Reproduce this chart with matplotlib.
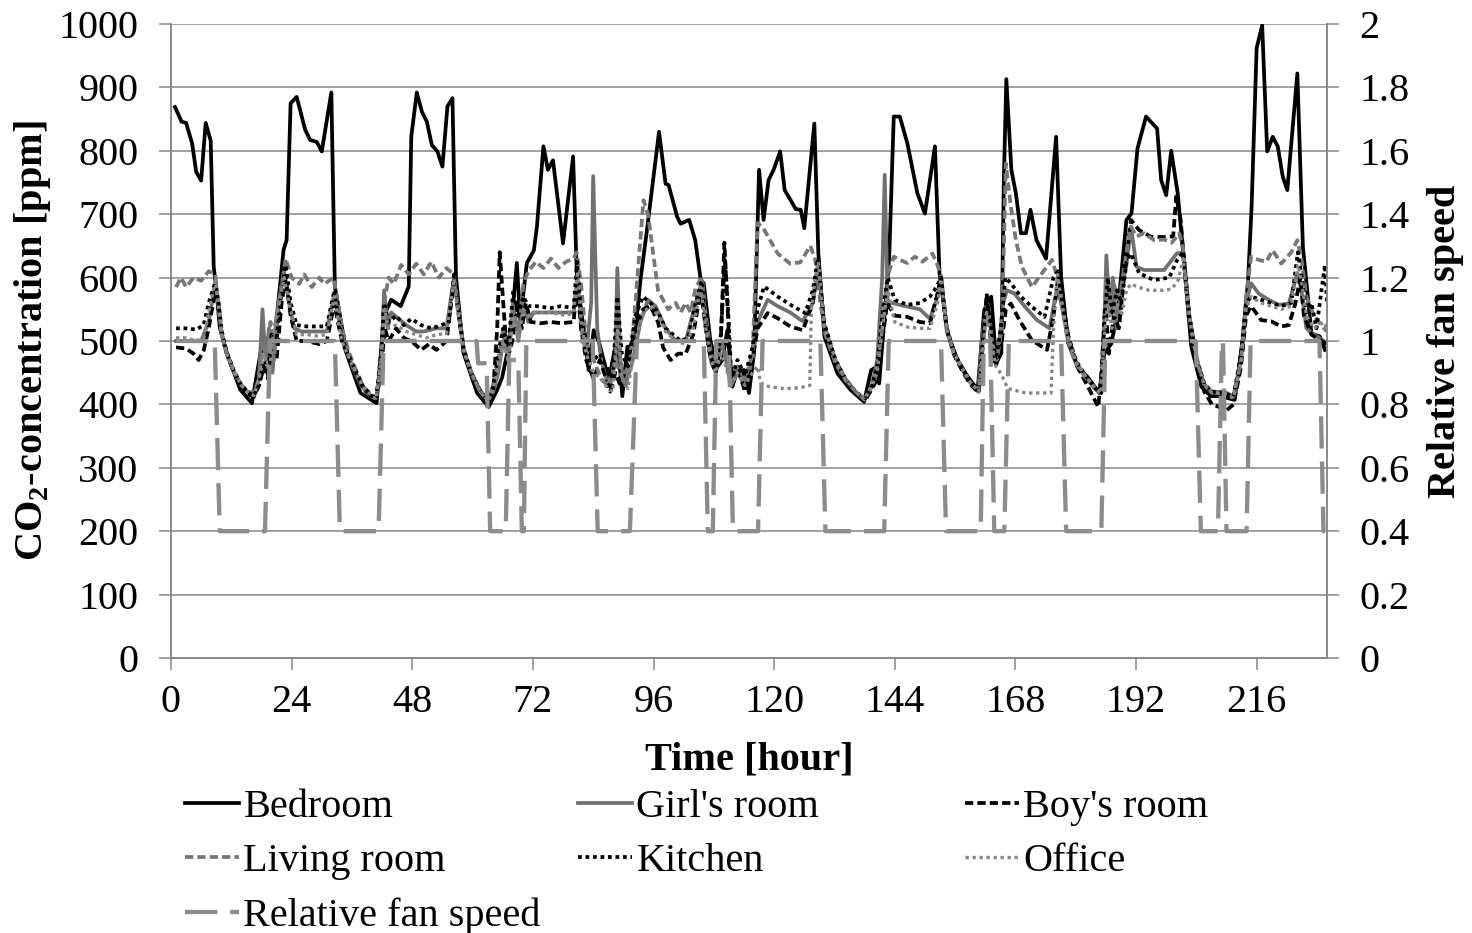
import matplotlib
matplotlib.use('Agg')
import matplotlib.pyplot as plt
from matplotlib.ticker import FuncFormatter

plt.rcParams['font.family'] = ['Liberation Serif', 'DejaVu Serif']
plt.rcParams['mathtext.fontset'] = 'custom'
plt.rcParams['mathtext.rm'] = 'Liberation Serif:bold'
plt.rcParams['mathtext.bf'] = 'Liberation Serif:bold'

# (hour, CO2 ppm)
bedroom = [(0.8, 869), (2.1, 846), (3.0, 844), (4.2, 812), (5.0, 767), (6.0, 753), (6.9, 844), (7.9, 816),
           (8.5, 617), (9.1, 575), (9.7, 522), (11.1, 481), (13.8, 423), (16.1, 402), (17.8, 481), (19.0, 497),
           (20.0, 454), (21.0, 533), (22.4, 644), (23.0, 659), (23.8, 875), (25.0, 885), (26.7, 833), (27.7, 817),
           (29.0, 814), (30.0, 799), (31.9, 892), (32.6, 586), (34.9, 481), (37.7, 418), (40.9, 402), (42.4, 540),
           (43.8, 565), (45.7, 555), (47.3, 586), (47.8, 822), (48.9, 892), (49.9, 862), (50.9, 846), (51.9, 809),
           (53.0, 799), (54.0, 775), (55.0, 870), (56.0, 883), (56.7, 601), (58.2, 481), (60.9, 418), (63.2, 396),
           (64.9, 423), (65.9, 443), (66.9, 481), (67.9, 540), (68.8, 623), (69.5, 533), (70.8, 623), (72.2, 643),
           (72.8, 680), (74.1, 807), (75.0, 770), (76.0, 785), (78.0, 654), (80.0, 791), (80.9, 565), (81.5, 555),
           (83.1, 454), (84.1, 517), (85.2, 497), (87.1, 438), (88.8, 507), (89.8, 413), (90.8, 491), (92.1, 491),
           (93.4, 596), (94.7, 675), (97.1, 830), (98.4, 748), (99.0, 746), (100.7, 696), (101.4, 685), (103.1, 691),
           (104.3, 659), (105.4, 596), (106.0, 591), (107.3, 501), (108.7, 459), (109.7, 470), (110.7, 517),
           (111.7, 428), (112.7, 454), (114.1, 454), (115.0, 418), (116.0, 481), (117.0, 770), (117.9, 691),
           (118.9, 754), (119.9, 770), (121.2, 799), (122.1, 738), (123.3, 722), (124.3, 708), (125.3, 707),
           (126.0, 678), (128.0, 843), (128.8, 638), (130.0, 507), (132.6, 449), (135.2, 423), (137.9, 404),
           (139.3, 454), (140.3, 459), (140.9, 433), (142.9, 633), (143.8, 854), (145.0, 854), (146.5, 812),
           (148.5, 733), (150.0, 701), (152.0, 807), (152.9, 607), (154.5, 512), (156.5, 470), (158.5, 444),
           (160.5, 423), (161.8, 549), (163.2, 570), (164.2, 465), (165.2, 481), (165.7, 754), (166.2, 913),
           (167.2, 770), (168.1, 733), (169.1, 670), (170.1, 670), (171.0, 707), (172.2, 659), (174.1, 630),
           (176.1, 822), (177.1, 601), (178.5, 497), (180.4, 459), (182.4, 443), (184.7, 418), (185.7, 480),
           (187.1, 496), (188.4, 549), (190.1, 691), (191.1, 701), (192.3, 804), (194.0, 854), (196.2, 835),
           (197.0, 754), (198.0, 730), (199.0, 800), (200.3, 733), (201.4, 638), (203.0, 491), (205.0, 428),
           (206.9, 413), (208.9, 413), (211.6, 407), (213.3, 507), (214.3, 596), (215.0, 712), (216.0, 962),
           (217.1, 998), (218.1, 799), (219.2, 822), (220.2, 807), (221.2, 759), (222.1, 738), (224.1, 922),
           (225.2, 649), (226.9, 512), (228.6, 507), (229.6, 486)]

girls_room = [(1, 500), (6, 500), (7.5, 530), (8.8, 590), (9.4, 560), (10.1, 510), (11.1, 480), (12.5, 452),
              (14, 430), (15.5, 418), (16.5, 415), (17.5, 440), (18.2, 550), (18.8, 470), (19.5, 520), (20.2, 450),
              (21, 540), (22.5, 610), (23.5, 560), (24.5, 520), (26, 515), (31, 515), (32.5, 575), (33.5, 530),
              (35, 482), (36.5, 452), (37.8, 430), (39.3, 415), (40.8, 410), (41.8, 460), (42.4, 580), (43.1, 520),
              (43.8, 545), (45.3, 535), (46.8, 525), (48.8, 515), (50.3, 515), (52.8, 520), (54.8, 520), (56.3, 600),
              (57.3, 540), (58.3, 485), (59.8, 450), (61.3, 425), (63.1, 405), (64.1, 420), (65.1, 450), (66.1, 500),
              (67.1, 480), (68.1, 560), (69.1, 500), (70.1, 560), (71.1, 530), (72.1, 545), (80.1, 545), (80.9, 600),
              (81.6, 520), (82.6, 480), (83.6, 560), (84.0, 760), (84.8, 520), (85.6, 470), (86.6, 440), (87.4, 430),
              (88.4, 470), (88.8, 615), (89.4, 470), (90.4, 430), (91.9, 470), (93.4, 530), (94.9, 565), (96.4, 555),
              (98.4, 520), (100.4, 500), (102.4, 500), (104.4, 560), (105.7, 595), (106.4, 520), (107.4, 470),
              (108.4, 450), (109.4, 500), (110.4, 470), (111.4, 430), (112.7, 450), (114.2, 430), (115.7, 470),
              (116.7, 530), (118.7, 565), (120.7, 555), (123.2, 545), (125.7, 531), (127.7, 560), (128.8, 620),
              (130.0, 525), (132.2, 470), (134.2, 440), (136.2, 420), (138, 408), (139.5, 430), (140.5, 470),
              (141.5, 600), (142.0, 762), (142.6, 560), (143.5, 560), (146, 555), (149, 550), (151, 535),
              (152.5, 570), (153.2, 600), (154.3, 520), (155.8, 480), (157.5, 455), (159, 435), (160.7, 420),
              (161.3, 500), (162.3, 560), (163.1, 520), (163.8, 470), (164.8, 500), (165.6, 560), (166.3, 580),
              (167.8, 575), (169.8, 555), (172.3, 533), (174.8, 520), (176.3, 585), (177.1, 560), (178.3, 510),
              (179.8, 470), (181.8, 445), (183.8, 425), (185, 418), (185.6, 500), (186.1, 635), (186.8, 540),
              (187.4, 600), (188.1, 520), (189.1, 580), (190.1, 620), (191.0, 680), (192.1, 617), (193.6, 612),
              (197.6, 612), (200.1, 638), (201.4, 640), (202.6, 540), (204.1, 470), (205.6, 430), (207.1, 420),
              (209.6, 420), (211.4, 412), (212.9, 470), (213.9, 560), (214.9, 591), (216.4, 575), (218.4, 565),
              (220.4, 557), (222.4, 559), (224.1, 607), (224.9, 580), (225.9, 520), (227.4, 510), (229.4, 500),
              (230, 495)]

boys_room = [(1, 490), (3, 488), (4.5, 480), (5.5, 470), (6.5, 485), (7.5, 520), (8.8, 580), (9.4, 560),
             (10.1, 510), (11.1, 480), (12.5, 450), (14, 428), (15.5, 415), (16.5, 412), (17.5, 430), (18.5, 460),
             (19.3, 440), (20, 500), (21, 470), (22, 560), (22.8, 600), (23.8, 540), (25, 500), (27, 500),
             (29.5, 495), (31, 500), (32.5, 560), (33.2, 530), (34, 500), (35.5, 470), (37, 445), (38.3, 425),
             (39.8, 413), (40.8, 408), (41.8, 450), (42.5, 520), (43.3, 500), (44.8, 520), (46.3, 505), (47.8, 500),
             (49.8, 486), (51.3, 495), (52.8, 486), (54.8, 500), (56.3, 595), (57.0, 555), (58.2, 485), (59.7, 450),
             (61.2, 425), (63.1, 402), (64.1, 420), (64.9, 520), (65.4, 640), (66.1, 560), (66.9, 470), (67.9, 500),
             (68.9, 560), (69.8, 520), (70.6, 560), (71.6, 530), (73.6, 528), (75.6, 530), (77.6, 528), (80.1, 530),
             (80.8, 590), (81.6, 520), (82.6, 470), (84.1, 440), (85.3, 470), (86.6, 440), (87.4, 420), (88.4, 450),
             (89.4, 430), (90.9, 470), (92.4, 520), (93.9, 550), (95.4, 555), (96.9, 530), (97.9, 490), (99.4, 470),
             (100.9, 480), (102.4, 480), (103.9, 510), (105.4, 580), (106.4, 520), (107.4, 470), (108.4, 450),
             (109.4, 500), (110.1, 655), (110.7, 560), (111.4, 440), (112.7, 460), (114.2, 420), (115.7, 470),
             (116.7, 520), (118.7, 544), (120.7, 536), (123.2, 523), (125.7, 517), (127.7, 560), (128.8, 625),
             (130.0, 520), (132.2, 468), (134.2, 438), (136.2, 418), (138, 405), (139.5, 425), (140.5, 440),
             (141.5, 500), (142.5, 560), (144, 540), (146.5, 538), (149, 530), (151, 528), (152.5, 575), (153.2, 600),
             (154.3, 520), (155.8, 478), (157.5, 452), (159, 432), (160.7, 418), (161.3, 470), (162.3, 575),
             (163.1, 500), (164.1, 460), (165.3, 500), (166.1, 550), (167.1, 559), (168.8, 533), (171.3, 501),
             (174.3, 486), (175.6, 540), (176.6, 607), (177.4, 560), (178.6, 505), (180.3, 460), (182.3, 430),
             (184.5, 396), (185.1, 450), (185.9, 560), (186.6, 480), (187.6, 540), (188.6, 520), (189.6, 600),
             (191.0, 691), (192.6, 675), (195.1, 664), (197.6, 664), (199.4, 665), (200.0, 728), (200.9, 690),
             (201.6, 620), (202.6, 530), (204.1, 460), (205.6, 420), (207.1, 400), (208.9, 395), (210.1, 391),
             (211.4, 400), (212.9, 460), (213.9, 540), (214.9, 555), (216.9, 533), (218.9, 531), (220.9, 523),
             (222.4, 525), (223.7, 559), (224.7, 600), (225.4, 540), (226.9, 510), (228.9, 500), (230, 495)]

living_room = [(1, 585), (2, 600), (3, 585), (4.5, 600), (6, 595), (7.5, 610), (8.8, 605), (9.4, 560), (10.1, 510),
               (11.1, 480), (12.5, 452), (14, 430), (15.5, 420), (16.5, 418), (17.5, 440), (18.3, 500), (19, 470),
               (19.8, 530), (20.5, 470), (21.5, 560), (22.8, 630), (24, 600), (25.5, 590), (26.5, 605), (28, 585),
               (29.5, 600), (30.5, 590), (32.3, 600), (33, 570), (34, 520), (35.5, 480), (37, 450), (38.3, 428),
               (39.8, 415), (40.8, 410), (41.8, 470), (42.4, 560), (43.3, 600), (44.3, 590), (45.8, 620), (47.3, 605),
               (48.8, 622), (50.3, 605), (51.8, 625), (53.3, 600), (54.8, 615), (56.3, 605), (57.0, 560), (58.2, 490),
               (59.7, 450), (61.2, 425), (63.1, 405), (64.1, 430), (65.1, 470), (66.1, 520), (67.1, 470), (68.1, 550),
               (69.1, 510), (70.1, 590), (71.1, 610), (72.6, 625), (74.1, 615), (75.6, 630), (77.1, 615), (78.6, 625),
               (80.1, 630), (80.7, 640), (81.6, 590), (82.6, 500), (84.1, 470), (85.6, 440), (86.9, 430), (88.4, 470),
               (89.9, 440), (91.4, 470), (92.4, 560), (94.0, 722), (94.9, 700), (95.9, 640), (96.9, 580), (97.9, 565),
               (98.9, 550), (100.4, 560), (101.4, 545), (102.4, 560), (103.4, 545), (104.4, 585), (105.6, 600),
               (106.4, 540), (107.4, 480), (108.4, 460), (109.4, 500), (110.4, 480), (111.4, 440), (112.7, 460),
               (114.2, 440), (115.7, 480), (116.7, 686), (117.7, 680), (119.2, 659), (120.7, 638), (123.2, 622),
               (125.2, 624), (127.2, 650), (128.2, 628), (129.2, 560), (130.2, 510), (132.2, 465), (134.2, 438),
               (136.2, 420), (138, 408), (139.5, 430), (140.5, 460), (141.5, 520), (142.5, 600), (143.8, 633),
               (145, 628), (146.5, 623), (148, 633), (149.5, 625), (151.5, 638), (152.5, 620), (153.3, 600),
               (154.3, 520), (155.8, 480), (157.5, 455), (159, 435), (160.6, 420), (161.3, 480), (162.3, 545),
               (163.3, 500), (164.3, 470), (165.3, 520), (166.1, 780), (167.1, 712), (168.1, 659), (169.3, 617),
               (171.3, 585), (173.3, 607), (175.3, 628), (176.3, 601), (177.1, 570), (178.3, 505), (179.8, 468),
               (181.8, 444), (183.8, 425), (185, 418), (185.6, 520), (186.1, 600), (187.0, 540), (187.6, 590),
               (188.6, 560), (189.9, 630), (191.0, 680), (192.1, 665), (193.6, 670), (195.6, 659), (197.6, 660),
               (199.1, 655), (200.6, 670), (201.4, 645), (202.6, 540), (204.1, 472), (205.6, 432), (207.1, 420),
               (209.6, 418), (211.4, 412), (212.9, 470), (213.9, 570), (214.9, 633), (216.4, 628), (217.9, 625),
               (219.2, 643), (220.9, 622), (222.9, 640), (224.1, 659), (224.9, 630), (225.9, 570), (227.4, 540),
               (229.4, 520), (230, 515)]

kitchen = [(1, 520), (3, 520), (5, 518), (6.5, 525), (7.5, 560), (8.7, 590), (9.4, 565), (10.1, 515), (11.1, 482),
           (12.5, 453), (14, 430), (15.5, 418), (16.5, 414), (17.5, 430), (18.5, 470), (19.2, 445), (20, 510),
           (21, 500), (22, 580), (22.8, 620), (23.8, 560), (25, 525), (27, 523), (29, 523), (31, 523), (32.5, 580),
           (33.2, 540), (34, 505), (35.5, 475), (37, 448), (38.3, 427), (39.8, 415), (40.8, 408), (41.8, 480),
           (42.4, 560), (43.3, 530), (44.8, 540), (46.3, 525), (47.8, 535), (49.8, 525), (51.8, 520), (53.8, 525),
           (55.3, 530), (56.3, 605), (57.0, 560), (58.2, 488), (59.7, 450), (61.2, 426), (63.1, 404), (64.1, 430),
           (65.1, 480), (66.1, 520), (67.1, 490), (68.1, 580), (69.1, 540), (70.1, 570), (71.1, 555), (72.6, 555),
           (75.6, 552), (77.6, 555), (80.1, 552), (80.8, 625), (81.6, 540), (82.6, 500), (84.1, 470), (85.3, 480),
           (86.6, 460), (87.9, 440), (88.8, 570), (89.7, 480), (90.9, 460), (92.4, 540), (93.9, 570), (95.4, 560),
           (96.9, 545), (98.4, 520), (99.9, 510), (101.4, 500), (102.9, 505), (104.4, 560), (105.6, 595),
           (106.4, 525), (107.4, 475), (108.4, 455), (109.4, 510), (110.2, 630), (110.9, 540), (111.5, 440),
           (112.7, 470), (114.2, 445), (115.7, 490), (116.7, 550), (118.0, 586), (120.7, 570), (123.7, 555),
           (126.2, 544), (127.7, 580), (128.7, 630), (129.9, 530), (132.2, 470), (134.2, 440), (136.2, 420),
           (138, 408), (139.5, 430), (140.5, 460), (141.5, 540), (142.6, 600), (144, 565), (146.5, 557), (149, 560),
           (151, 570), (152.3, 585), (153.2, 600), (154.3, 522), (155.8, 482), (157.5, 456), (159, 436),
           (160.7, 421), (161.3, 480), (162.3, 570), (163.2, 520), (164.1, 470), (165.1, 520), (166.0, 600),
           (167.1, 591), (169.1, 570), (171.1, 555), (173.8, 538), (175.6, 601), (176.5, 610), (177.3, 565),
           (178.5, 508), (180.1, 468), (182.1, 444), (184.1, 424), (185.1, 418), (185.6, 520), (186.4, 600),
           (187.2, 540), (188.2, 580), (189.1, 560), (190.1, 625), (191.0, 638), (192.6, 607), (195.6, 596),
           (198.6, 600), (200.2, 628), (201.4, 640), (202.6, 540), (204.1, 470), (205.6, 432), (207.1, 420),
           (209.6, 418), (211.4, 412), (212.9, 480), (213.9, 560), (214.9, 570), (216.9, 565), (218.9, 560),
           (220.9, 555), (222.9, 560), (224.2, 640), (225.0, 600), (225.9, 545), (226.9, 560), (227.9, 520),
           (228.9, 580), (229.6, 620), (230, 560)]

office = [(1, 505), (3, 505), (5, 500), (6.5, 505), (7.5, 545), (8.8, 595), (9.4, 560), (10.1, 510), (11.1, 480),
          (12.5, 452), (14, 430), (15.5, 417), (16.5, 414), (17.5, 440), (18.5, 480), (19.5, 450), (20.5, 520),
          (21.5, 560), (22.5, 600), (23.5, 560), (25, 510), (27, 510), (29, 508), (31, 510), (32.5, 570),
          (33.3, 530), (34, 500), (35.5, 472), (37, 446), (38.3, 426), (39.8, 414), (40.8, 408), (41.8, 470),
          (42.5, 550), (43.3, 520), (44.8, 525), (46.8, 515), (48.8, 510), (50.8, 505), (52.8, 510), (54.8, 512),
          (56.3, 598), (57.0, 550), (58.2, 485), (59.7, 450), (61.2, 425), (63.1, 403), (64.1, 425), (65.1, 460),
          (66.1, 500), (67.1, 470), (68.1, 540), (69.1, 500), (70.1, 550), (71.1, 540), (72.6, 545), (75.6, 545),
          (78.6, 540), (80.1, 545), (80.9, 610), (81.6, 530), (82.6, 480), (84.1, 450), (85.6, 440), (86.9, 425),
          (87.9, 420), (88.9, 520), (89.7, 440), (90.9, 425), (92.4, 500), (93.9, 545), (95.4, 555), (96.9, 540),
          (98.4, 515), (100.4, 500), (102.4, 495), (103.9, 520), (105.4, 585), (106.4, 520), (107.4, 470),
          (108.4, 450), (109.4, 480), (110.4, 460), (111.4, 430), (112.7, 450), (114.2, 430), (115.7, 450),
          (116.7, 460), (117.3, 434), (119, 428), (122, 425), (125, 426), (127.1, 430), (127.4, 549), (128.2, 600),
          (128.8, 625), (129.9, 525), (132.2, 470), (134.2, 440), (136.2, 420), (138, 407), (139.5, 430),
          (140.5, 450), (141.5, 520), (142.6, 580), (144, 530), (146.5, 522), (149, 520), (151, 520), (152.5, 560),
          (153.2, 598), (154.3, 520), (155.8, 480), (157.5, 455), (159, 435), (160.7, 420), (161.3, 470),
          (162.3, 545), (163.2, 500), (164.1, 460), (165.1, 449), (166.5, 425), (170, 418), (175.1, 418),
          (175.4, 481), (175.8, 555), (176.4, 605), (177.2, 560), (178.5, 505), (180.1, 466), (182.1, 443),
          (184.1, 424), (185.1, 418), (185.6, 500), (186.4, 560), (187.2, 520), (188.2, 560), (189.1, 540),
          (190.1, 580), (191.0, 590), (192.4, 585), (194.6, 580), (197.6, 580), (199.1, 582), (200.4, 596),
          (201.4, 630), (202.6, 535), (204.1, 468), (205.6, 430), (207.1, 418), (209.6, 416), (211.4, 410),
          (212.9, 470), (213.9, 550), (214.9, 570), (216.9, 560), (218.9, 555), (220.9, 550), (222.9, 555),
          (224.2, 620), (225.0, 590), (225.9, 540), (227.4, 520), (229.4, 530), (230, 520)]

# (hour, relative fan speed) on the right axis
fan_speed = [(1, 1), (8.7, 1), (9.7, 0.4), (18.7, 0.4), (19.7, 1), (32.6, 1), (33.6, 0.4), (41.3, 0.4), (42.3, 1),
             (60.8, 1), (61.1, 0.93), (62.8, 0.93), (63.5, 0.4), (66.6, 0.4), (67.3, 0.94), (69.1, 0.94),
             (69.8, 0.4), (70.2, 0.4), (70.7, 1), (83.9, 1), (84.9, 0.4), (91.3, 0.4), (92.7, 1), (106.0, 1),
             (106.8, 0.4), (107.8, 0.4), (108.5, 1), (111.0, 1), (111.8, 0.4), (116.8, 0.4), (117.7, 1), (129.2, 1),
             (130.2, 0.4), (141.9, 0.4), (142.8, 1), (153.2, 1), (154.2, 0.4), (161.1, 0.4), (161.7, 1), (163.0, 1),
             (163.8, 0.4), (165.8, 0.4), (166.7, 1), (177.1, 1), (178.1, 0.4), (185.1, 0.4), (185.9, 1), (203.9, 1),
             (204.9, 0.4), (208.3, 0.4), (209.1, 1), (209.3, 1), (210.0, 0.4), (214.0, 0.4), (214.8, 1), (228.5, 1),
             (229.3, 0.4), (229.6, 0.4)]

x_ticks = list(range(0, 217, 24))
left_ticks = list(range(0, 1001, 100))
right_ticks = [0, 0.2, 0.4, 0.6, 0.8, 1, 1.2, 1.4, 1.6, 1.8, 2]

FS = 29
GRID = '#868686'

fig = plt.figure(figsize=(14.72, 9.33), dpi=100)
ax = fig.add_axes([171 / 1472, 1 - 658 / 933, (1327 - 171) / 1472, (658 - 24) / 933])
ax2 = ax.twinx()


def xy(pairs):
    return [p[0] for p in pairs], [p[1] for p in pairs]


kw = dict(solid_joinstyle='round', dash_joinstyle='round')
LW = 2.7
l_bed, = ax.plot(*xy(bedroom), color='black', lw=LW, label='Bedroom', **kw)
l_girl, = ax.plot(*xy(girls_room), color='#707070', lw=LW, label="Girl's room", **kw)
l_boy, = ax.plot(*xy(boys_room), color='black', lw=LW, dashes=(2.2, 1.1), label="Boy's room", **kw)
l_liv, = ax.plot(*xy(living_room), color='#777777', lw=LW, dashes=(2.2, 1.1), label='Living room', **kw)
l_kit, = ax.plot(*xy(kitchen), color='black', lw=LW, dashes=(1.0, 1.0), label='Kitchen', **kw)
l_off, = ax.plot(*xy(office), color='#888888', lw=2.4, dashes=(1.0, 1.1), label='Office', **kw)
l_fan, = ax2.plot(*xy(fan_speed), color='#8c8c8c', lw=3.1, dashes=(7.5, 3.0), label='Relative fan speed', **kw)

ax.set_xlim(0, 230)
ax.set_ylim(0, 1000)
ax2.set_ylim(0, 2)
ax.set_xticks(x_ticks)
ax.set_yticks(left_ticks)
ax2.set_yticks(right_ticks)
ax2.yaxis.set_major_formatter(FuncFormatter(lambda v, p: '%g' % v))

ax.grid(True, axis='y', color=GRID, lw=1.1)
ax.set_axisbelow(True)
for a in (ax, ax2):
    a.spines['top'].set_visible(False)
    for s in ('left', 'right', 'bottom'):
        a.spines[s].set_color(GRID)
        a.spines[s].set_linewidth(1.1)
ax.tick_params(axis='x', direction='out', length=8.5, width=1.1, color=GRID, pad=10, labelsize=FS)
ax.tick_params(axis='y', direction='out', length=8.5, width=1.1, color=GRID, pad=15, labelsize=FS)
ax2.tick_params(axis='y', direction='out', length=8.5, width=1.1, color=GRID, pad=15, labelsize=FS)

ax.set_xlabel('Time [hour]', fontsize=FS, fontweight='bold', labelpad=15)
ax.set_ylabel(r'CO$_\mathrm{2}$-concentration [ppm]', fontsize=FS, fontweight='bold', labelpad=4)
ax2.set_ylabel('Relative fan speed', fontsize=FS, fontweight='bold', labelpad=12)

# legend: three columns at fixed places below the plot
leg_kw = dict(frameon=False, fontsize=FS, handlelength=1.35, handletextpad=0.1, borderpad=0,
              borderaxespad=0, labelspacing=0.42, loc='upper left')
fig.legend(handles=[l_bed, l_liv, l_fan], bbox_to_anchor=(185 / 1472, 1 - 789 / 933), **leg_kw)
fig.legend(handles=[l_girl, l_kit], bbox_to_anchor=(578 / 1472, 1 - 789 / 933), **leg_kw)
fig.legend(handles=[l_boy, l_off], bbox_to_anchor=(965 / 1472, 1 - 789 / 933), **leg_kw)

fig.savefig('out.png', dpi=100)
